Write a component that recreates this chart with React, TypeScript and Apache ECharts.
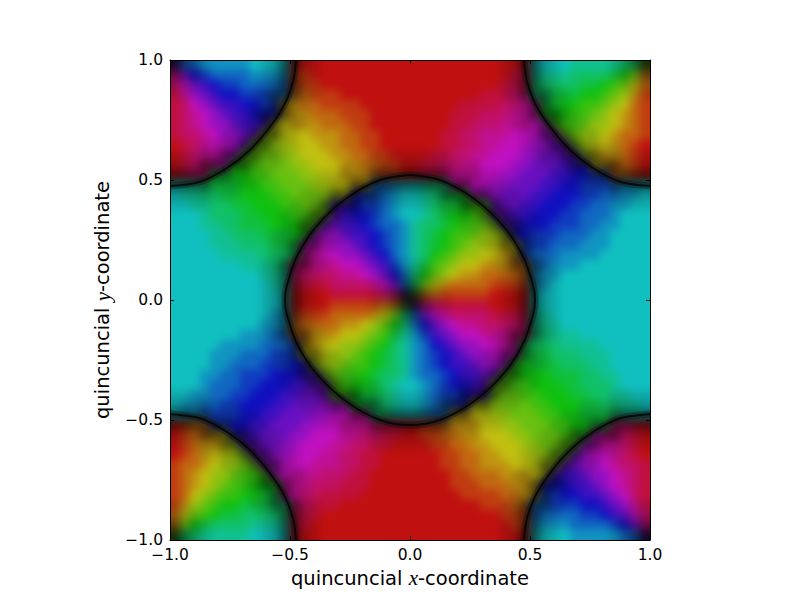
import React, { useEffect, useRef } from "react";
import * as echarts from "echarts";

// Hue of each 10px cell of the image (a = 0 deg, then 15 deg per letter), top row first.
const hueRows = [
  "soonnnnnmmmmaaaaaaaaaaaa" + "aaaaaaaaaaaammmmlllllkkg",
  "wsqpoooonnnnbbaaaaaaaaaa" + "aaaaaaaaaaxxllllkkkkjigc",
  "wusrqppooooobbbaaaaaaaaa" + "aaaaaaaaaxxxkkkkkjjihgec",
  "xvtsrqqpppooccbbbaaaaaaa" + "aaaaaaaxxxwwkkjjjiihgfdb",
  "xwutsrrqqppddccbbbbaaaaa" + "aaaaaxxxxwwvvjjiihhgfecb",
  "xwvutsrrqqqdddcccbbbaaaa" + "aaaaxxxwwwvvviiihhgfedcb",
  "xwvuttsrrreedddcccbbaaaa" + "aaaaxxwwwvvvuuhhhgffedcb",
  "xwwvuttssffeeedddccbbaaa" + "aaaxxwwvvvuuuttggffedccb",
  "axwvuutsggffeeeddccbbaaa" + "aaaxxwwvvuuuttssgfeedcba",
  "axwvvuthgggffeeeddccbbaa" + "aaxxwwvvuuuttsssrfeddcba",
  "axwwvuihhgggffeeeddccbba" + "axxwwvvuuuttsssrrqedccba",
  "axwwjjiihhgggffeedddcbba" + "axxwvvvuuttsssrrqqppccba",
  "mllkjjjiihhgggffeeddoonm" + "mlkkvvuuttsssrrqqppponnm",
  "mllkkjjiiihhgggffeqpoonm" + "mlkkjiuttsssrrqqqppoonnm",
  "mmllkkjjiiihhgggrrqpponm" + "mlkjjihhsssrrqqqppoonnmm",
  "mmmlkkkjjiiihhggsrqqponm" + "mlkjiihgssrrqqqppooonmmm",
  "mmmllkkjjjiiihhssrrqpoon" + "lkkjihhggrrqqqpppoonnmmm",
  "mmmmllkkkjjjiitttsrrqpon" + "lkjihhgfffqqpppooonnmmmm",
  "mmmmlllkkkjjjuuuttsrqpon" + "lkjihgffeeepppooonnnmmmm",
  "mmmmmllllkkkjvvuuttsrqon" + "lkihgffeeddpooonnnnmmmmm",
  "mmmmmmmlllkkwwvvvuutsrpn" + "ljhgfeedddccoonnnmmmmmmm",
  "mmmmmmmmmlllwwwwwvvutsqo" + "kigfeddcccccnnnmmmmmmmmm",
  "mmmmmmmmmmllxxxxwwwwvuso" + "kgedccccbbbbnnmmmmmmmmmm",
  "mmmmmmmmmmmmaaaaxxxxxwws" + "gccbbbbbaaaammmmmmmmmmmm",
  "mmmmmmmmmmmmaaaabbbbbccg" + "swwxxxxxaaaammmmmmmmmmmm",
  "mmmmmmmmmmnnbbbbccccdegk" + "osuvwwwwxxxxllmmmmmmmmmm",
  "mmmmmmmmmnnncccccddefgik" + "oqstuvvwwwwwlllmmmmmmmmm",
  "mmmmmmmnnnooccdddeefghjl" + "nprstuuvvvwwkklllmmmmmmm",
  "mmmmmnnnnooopddeeffghikl" + "noqrsttuuvvjkkkllllmmmmm",
  "mmmmnnnooopppeeeffghijkl" + "nopqrsttuuujjjkkklllmmmm",
  "mmmmnnooopppqqfffghhijkl" + "nopqrrstttiijjjkkkllmmmm",
  "mmmnnoopppqqqrrgghhijkkl" + "noopqrrsshhiiijjjkkllmmm",
  "mmmnoooppqqqrrssghiijklm" + "mnopqqrsgghhiiijjkkklmmm",
  "mmnnooppqqqrrssshhijjklm" + "mnoppqrrggghhiiijjkkllmm",
  "mnnooppqqqrrsssttuijkklm" + "mnoopqeffggghhiiijjkkllm",
  "mnnopppqqrrsssttuuvvkklm" + "mnooddeeffggghhiijjjkllm",
  "abccppqqrrsssttuuvvvwxxa" + "abbcdddeeffggghhiijjwwxa",
  "abccdeqrrsssttuuuvvwwxxa" + "abbccddeeeffggghhiuvwwxa",
  "abcddefrsssttuuuvvwwxxaa" + "aabbccddeeeffggghtuvvwxa",
  "abcdeefgssttuuuvvwwxxaaa" + "aaabbccddeeeffggstuuvwxa",
  "bccdeffggttuuuvvvwwxxaaa" + "aaabbccdddeeeffssttuvwwx",
  "bcdeffghhhuuvvvwwwxxaaaa" + "aaaabbcccdddeerrrsttuvwx",
  "bcdefghhiiivvvwwwxxxaaaa" + "aaaabbbcccdddqqqrrstuvwx",
  "bcefghhiijjvvwwxxxxaaaaa" + "aaaaabbbbccddppqqrrstuwx",
  "bdfghiijjjkkwwxxxaaaaaaa" + "aaaaaaabbbccoopppqqrstvx",
  "ceghijjkkkkkxxxaaaaaaaaa" + "aaaaaaaaabbboooooppqrsuw",
  "cgijkkkkllllxxaaaaaaaaaa" + "aaaaaaaaaabbnnnnoooopqsw",
  "gkklllllmmmmaaaaaaaaaaaa" + "aaaaaaaaaaaammmmnnnnnoos",
];

// Brightness class of each cell, 0 (black) to 9 (full), top row first.
const topBrightnessRows = [
  "246789998753357899999999" + "999999998753357899987642",
  "466789998753357899999999" + "999999998753357899987664",
  "667899998753357899999999" + "999999998753357899998766",
  "778899987533357899999999" + "999999998753335789998877",
  "889999987533578899999999" + "999999998875335789999988",
  "999999875333578999999999" + "999999999875333578999999",
  "999998775335578999999999" + "999999999875533577899999",
  "999887753335789999999999" + "999999999987533357788999",
  "888775533357789999988888" + "888889999987753335577888",
  "777553333557899998887777" + "777788899998755333355777",
  "555333335778999887775555" + "555577788999877533333555",
  "333333557789998775553333" + "333355577899987755333333",
  "333355577899987755333333" + "333333557789998775553333",
  "555577788999877533333555" + "555333335778999887775555",
  "777788899998775333355777" + "777553333577899998887777",
  "888889999987753335577888" + "888775533357789999988888",
  "999999999987533357788999" + "999887753335789999999999",
  "999999999875533577899999" + "999998775335578999999999",
  "999999999875333578999999" + "999999875333578999999999",
  "999999998875335789999988" + "889999987533578899999999",
  "999999998753335789998877" + "778899987533357899999999",
  "999999998753357899998766" + "667899998753357899999999",
  "999999998753357899987664" + "466789998753357899999999",
  "999999998753357899987642" + "246789998753357899999999",
];
const bottomBrightnessRows = [
  "999999998753357899987642" + "246789998753357899999999",
  "999999998753357899987664" + "466789998753357899999999",
  "999999998753357899998766" + "667899998753357899999999",
  "999999998753335789998877" + "778899987533357899999999",
  "999999998875335789999988" + "889999987533578899999999",
  "999999999875333578999999" + "999999875333578999999999",
  "999999999875533577899999" + "999998775335578999999999",
  "999999999987533357788999" + "999887753335789999999999",
  "888889999987753335577888" + "888775533357789999988888",
  "777788899998755333355777" + "777553333557899998887777",
  "555577788999877533333555" + "555333335778999887775555",
  "333355577899987755333333" + "333333557789998775553333",
  "333333557789998775553333" + "333355577899987755333333",
  "555333335778999887775555" + "555577788999877533333555",
  "777553333577899998887777" + "777788899998775333355777",
  "888775533357789999988888" + "888889999987753335577888",
  "999887753335789999999999" + "999999999987533357788999",
  "999998775335578999999999" + "999999999875533577899999",
  "999999875333578999999999" + "999999999875333578999999",
  "889999987533578899999999" + "999999998875335789999988",
  "778899987533357899999999" + "999999998753335789998877",
  "667899998753357899999999" + "999999998753357899998766",
  "466789998753357899999999" + "999999998753357899987664",
  "246789998753357899999999" + "999999998753357899987642",
];
// Brightness (in ninths) that each class above is shown at.
const brightnessLevels = [0, 1, 2, 4, 5, 7, 7, 8, 9, 9];

// Dark outlines, in axis units.
const centerLobe = [
  [0, 0.521], [0.125, 0.5], [0.264, 0.424], [0.389, 0.308], [0.472, 0.18], [0.514, 0.056], [0.521, 0],
  [0.514, -0.056], [0.472, -0.18], [0.389, -0.308], [0.264, -0.424], [0.125, -0.5], [0, -0.521],
  [-0.125, -0.5], [-0.264, -0.424], [-0.389, -0.308], [-0.472, -0.18], [-0.514, -0.056], [-0.521, 0],
  [-0.514, 0.056], [-0.472, 0.18], [-0.389, 0.308], [-0.264, 0.424], [-0.125, 0.5], [0, 0.521],
];
const topLeftLobe = [
  [-0.475, 1], [-0.486, 0.917], [-0.521, 0.819], [-0.583, 0.722], [-0.667, 0.625], [-0.764, 0.549], [-0.875, 0.493], [-1, 0.475],
];
const topRightLobe = [
  [0.475, 1], [0.486, 0.917], [0.521, 0.819], [0.583, 0.722], [0.667, 0.625], [0.764, 0.549], [0.875, 0.493], [1, 0.475],
];
const bottomLeftLobe = [
  [-0.475, -1], [-0.486, -0.917], [-0.521, -0.819], [-0.583, -0.722], [-0.667, -0.625], [-0.764, -0.549], [-0.875, -0.493], [-1, -0.475],
];
const bottomRightLobe = [
  [0.475, -1], [0.486, -0.917], [0.521, -0.819], [0.583, -0.722], [0.667, -0.625], [0.764, -0.549], [0.875, -0.493], [1, -0.475],
];
const lobes = [centerLobe, topLeftLobe, topRightLobe, bottomLeftLobe, bottomRightLobe];

const xTitle = ["quincuncial ", "x", "-coordinate"];
const yTitle = ["quincuncial ", "y", "-coordinate"];

const HUE_LETTERS = "abcdefghijklmnopqrstuvwx";
const FONT = "DejaVu Sans";

function paletteColor(hueIndex: number, digit: number) {
  const h = (hueIndex * 15) / 60;
  const c = (n: number) => {
    const k = (n + h) % 6;
    return Math.max(0, Math.min(k, 4 - k, 1));
  };
  const v = brightnessLevels[digit] / 9;
  const ch = (n: number) => Math.round((16 + 176 * (1 - c(n))) * v);
  return `rgb(${ch(5)},${ch(3)},${ch(1)})`;
}

function heatOption() {
  const brightness = [...topBrightnessRows, ...bottomBrightnessRows];
  const palette: string[] = [];
  for (let h = 0; h < 24; h++) for (let d = 0; d <= 9; d++) palette.push(paletteColor(h, d));
  const cats: number[] = [];
  for (let i = -2; i < 50; i++) cats.push(i);
  const clamp = (i: number) => Math.max(0, Math.min(47, i));
  const data: number[][] = [];
  cats.forEach((row, ry) => {
    cats.forEach((col, cx) => {
      const r = clamp(row);
      const c = clamp(col);
      data.push([cx, 51 - ry, HUE_LETTERS.indexOf(hueRows[r][c]) * 10 + Number(brightness[r][c])]);
    });
  });
  return {
    animation: false,
    grid: { left: 0, right: 0, top: 0, bottom: 0 },
    xAxis: { type: "category", data: cats, show: false },
    yAxis: { type: "category", data: cats, show: false },
    visualMap: { show: false, type: "continuous", min: 0, max: palette.length - 1, dimension: 2, inRange: { color: palette } },
    series: [{ type: "heatmap", data, progressive: 0, itemStyle: { borderWidth: 0 } }],
  };
}

const tick = (v: number) => v.toFixed(1).replace("-", "\u2212");
const titleRich = {
  a: { fontFamily: FONT, fontSize: 19.5, color: "#000" },
  m: { fontFamily: "Liberation Serif", fontStyle: "italic", fontSize: 21, color: "#000" },
};
const axisBase = {
  type: "value",
  min: -1,
  max: 1,
  interval: 0.5,
  splitLine: { show: false },
  axisLine: { show: true, onZero: false, lineStyle: { color: "#000", width: 1 } },
  axisTick: { show: true, inside: true, length: 4, lineStyle: { color: "#000", width: 1 } },
};

function lobeSeries(points: number[][], width: number, opacity: number) {
  return {
    type: "line",
    data: points,
    smooth: 0.3,
    showSymbol: false,
    silent: true,
    clip: true,
    lineStyle: { color: "#050505", width, opacity },
  };
}

function frameOption() {
  return {
    animation: false,
    backgroundColor: "transparent",
    grid: { left: 170, top: 60, width: 480, height: 480 },
    xAxis: [
      {
        ...axisBase,
        position: "bottom",
        name: `{a|${xTitle[0]}}{m|${xTitle[1]}}{a|${xTitle[2]}}`,
        nameLocation: "middle",
        nameGap: 27,
        nameTextStyle: { rich: titleRich },
        axisLabel: { color: "#000", fontFamily: FONT, fontSize: 15.5, margin: 7, formatter: tick, showMinLabel: true, showMaxLabel: true },
      },
      { ...axisBase, position: "top", axisLabel: { show: false } },
    ],
    yAxis: [
      {
        ...axisBase,
        position: "left",
        name: `{a|${yTitle[0]}}{m|${yTitle[1]}}{a|${yTitle[2]}}`,
        nameLocation: "middle",
        nameRotate: 90,
        nameGap: 57,
        nameTextStyle: { rich: titleRich },
        axisLabel: { color: "#000", fontFamily: FONT, fontSize: 15.5, margin: 7, formatter: tick, showMinLabel: true, showMaxLabel: true },
      },
      { ...axisBase, position: "right", axisLabel: { show: false } },
    ],
    series: [
      ...lobes.map((points) => lobeSeries(points, 7, 0.3)),
      ...lobes.map((points) => lobeSeries(points, 2, 0.85)),
    ],
  };
}

export default function App() {
  const heatRef = useRef<HTMLDivElement>(null);
  const frameRef = useRef<HTMLDivElement>(null);
  useEffect(() => {
    const heat = echarts.init(heatRef.current!, undefined, { renderer: "svg" });
    const frame = echarts.init(frameRef.current!, undefined, { renderer: "svg" });
    heat.setOption(heatOption() as any);
    frame.setOption(frameOption() as any);
    return () => {
      heat.dispose();
      frame.dispose();
    };
  }, []);
  return (
    <div style={{ position: "absolute", left: 0, top: 0, width: 800, height: 600, background: "#fff", overflow: "hidden" }}>
      <div style={{ position: "absolute", left: 170, top: 60, width: 480, height: 480, overflow: "hidden" }}>
        <div ref={heatRef} style={{ position: "absolute", left: -20, top: -20, width: 520, height: 520, filter: "blur(4.5px)" }} />
      </div>
      <div ref={frameRef} style={{ position: "absolute", left: 0, top: 0, width: 800, height: 600 }} />
    </div>
  );
}
